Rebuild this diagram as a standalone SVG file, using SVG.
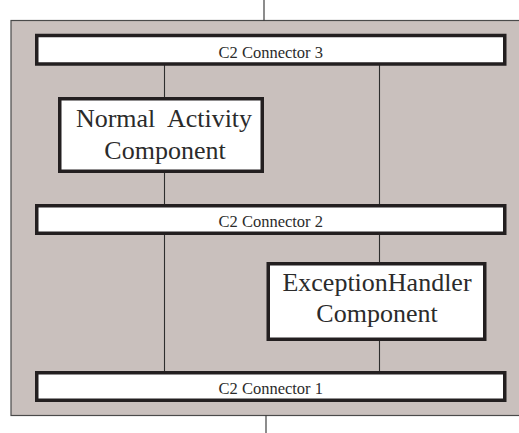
<svg xmlns="http://www.w3.org/2000/svg" width="519" height="433" viewBox="0 0 519 433">
  <style>
    .frame { fill: #c9c0bd; stroke: #4a4a4a; stroke-width: 1.2; }
    .box { fill: #ffffff; stroke: #231f20; stroke-width: 3.5; }
    .wire { stroke: #2e2e2e; stroke-width: 1.1; fill: none; }
    .small { font-family: "Liberation Serif", "DejaVu Serif", "Times New Roman", serif; font-size: 16.5px; fill: #2b2b2b; text-anchor: middle; }
    .big { font-family: "Liberation Serif", "DejaVu Serif", "Times New Roman", serif; font-size: 26px; fill: #2b2b2b; text-anchor: middle; white-space: pre; }
  </style>

  <!-- outer architecture frame -->
  <rect class="frame" x="11" y="20.5" width="520" height="395"/>

  <!-- connectors between components and buses -->
  <g id="connectors">
    <line class="wire" x1="264" y1="0" x2="264" y2="20.5"/>
    <line class="wire" x1="266" y1="415.5" x2="266" y2="433"/>
    <line class="wire" x1="164.5" y1="65" x2="164.5" y2="97"/>
    <line class="wire" x1="164.5" y1="173" x2="164.5" y2="204"/>
    <line class="wire" x1="379.5" y1="65" x2="379.5" y2="204"/>
    <line class="wire" x1="379.5" y1="235" x2="379.5" y2="262"/>
    <line class="wire" x1="379.5" y1="341" x2="379.5" y2="371"/>
    <line class="wire" x1="164.5" y1="235" x2="164.5" y2="371"/>
  </g>

  <g id="c2-connector-3">
    <rect class="box" x="36.75" y="35.5" width="468" height="28.5"/>
    <text class="small" x="270.75" y="57.5">C2 Connector 3</text>
  </g>

  <g id="normal-activity-component">
    <rect class="box" x="59.75" y="98.75" width="202.5" height="72.5"/>
    <text class="big" x="164" y="126.5" xml:space="preserve">Normal  Activity</text>
    <text class="big" x="165" y="159">Component</text>
  </g>

  <g id="c2-connector-2">
    <rect class="box" x="36.75" y="205.75" width="468" height="27.5"/>
    <text class="small" x="270.75" y="226.5">C2 Connector 2</text>
  </g>

  <g id="exception-handler-component">
    <rect class="box" x="268.25" y="263.75" width="216.5" height="75.5"/>
    <text class="big" x="377" y="291">ExceptionHandler</text>
    <text class="big" x="377" y="322">Component</text>
  </g>

  <g id="c2-connector-1">
    <rect class="box" x="36.75" y="372.75" width="468" height="27.5"/>
    <text class="small" x="270.75" y="393.5">C2 Connector 1</text>
  </g>
</svg>
